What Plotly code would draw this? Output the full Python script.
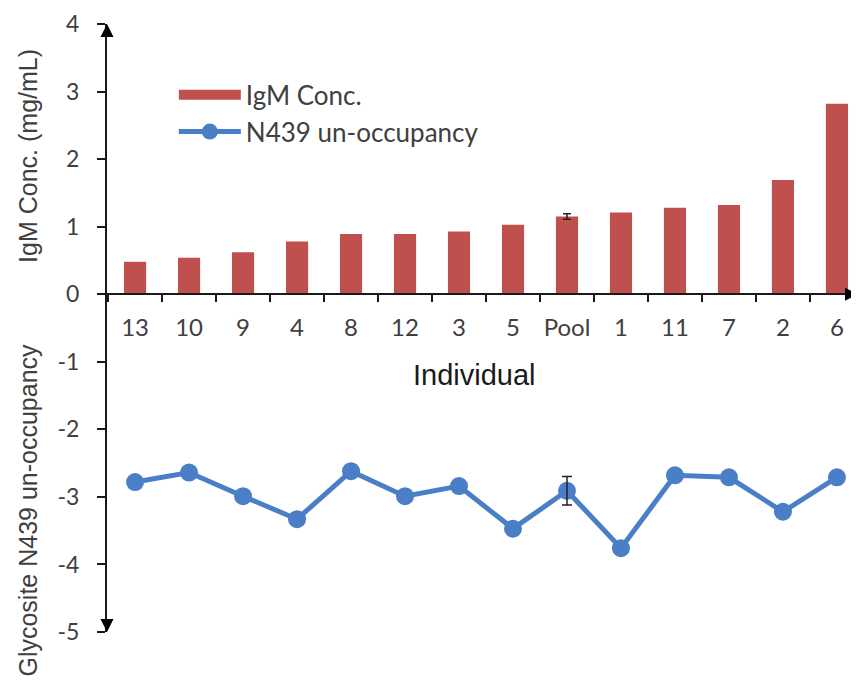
import plotly.graph_objects as go

individuals = ["13", "10", "9", "4", "8", "12", "3", "5", "Pool", "1", "11", "7", "2", "6"]
igm_conc = [0.48, 0.54, 0.62, 0.78, 0.89, 0.89, 0.93, 1.03, 1.15, 1.21, 1.28, 1.32, 1.69, 2.82]
igm_err = [None, None, None, None, None, None, None, None, 0.04, None, None, None, None, None]
n439 = [-2.78, -2.64, -2.99, -3.33, -2.62, -2.99, -2.84, -3.47, -2.91, -3.76, -2.68, -2.71, -3.22, -2.71]
n439_err = [None, None, None, None, None, None, None, None, 0.21, None, None, None, None, None]
y_ticks = [-5, -4, -3, -2, -1, 0, 1, 2, 3, 4]
y_tick_text = ["-5", "-4", "-3", "-2", "-1", "0", "1", "2", "3", "4"]

RED = "#C0504D"
BLUE = "#4A7EC6"
TXT = "#404040"
TICKFONT = dict(family="Lato, Open Sans, sans-serif", size=24, color=TXT)
YTICKFONT = dict(family="Lato, Open Sans, sans-serif", size=23, color=TXT)


def with_err(values, errs):
    idx = [i for i, e in enumerate(errs) if e is not None]
    return ([individuals[i] for i in idx], [values[i] for i in idx], [errs[i] for i in idx])


fig = go.Figure()
fig.add_trace(go.Bar(
    x=individuals, y=igm_conc, name="IgM Conc.", showlegend=False,
    marker=dict(color=RED, line=dict(width=0)),
))
ex, ey, ee = with_err(igm_conc, igm_err)
fig.add_trace(go.Scatter(
    x=ex, y=ey, mode="markers", showlegend=False, hoverinfo="skip",
    marker=dict(size=1, opacity=0),
    error_y=dict(type="data", array=ee, color="#222222", thickness=1.5, width=4),
))
# legend proxy for the bar series (wide rectangle symbol)
fig.add_trace(go.Scatter(
    x=[None], y=[None], name="IgM Conc.", mode="lines",
    line=dict(color=RED, width=14),
))
fig.add_trace(go.Scatter(
    x=individuals, y=n439, name="N439 un-occupancy", mode="lines+markers",
    line=dict(color=BLUE, width=5),
    marker=dict(color=BLUE, size=18),
))
ex, ey, ee = with_err(n439, n439_err)
fig.add_trace(go.Scatter(
    x=ex, y=ey, mode="markers", showlegend=False, hoverinfo="skip",
    marker=dict(size=1, opacity=0),
    error_y=dict(type="data", array=ee, color="#222222", thickness=1.5, width=5),
))

fig.update_layout(
    width=851, height=681,
    margin=dict(l=99, r=1, t=16, b=57),
    plot_bgcolor="white", paper_bgcolor="white",
    bargap=0.59,
    showlegend=True,
    legend=dict(x=0.089, y=0.922, xanchor="left", yanchor="top",
                font=dict(family="Lato, Open Sans, sans-serif", size=26, color=TXT),
                bgcolor="rgba(0,0,0,0)", itemwidth=62, tracegroupgap=0),
    xaxis=dict(
        type="category", range=[-0.52, 13.39], automargin=False,
        anchor="free", position=5 / 9,
        showline=True, linecolor="#1a1a1a", linewidth=2,
        ticks="outside", ticklen=7, tickwidth=1.5, tickcolor="#1a1a1a",
        tickson="boundaries", ticklabelstandoff=12, tickangle=0,
        ticklabeloverflow="allow",
        tickfont=TICKFONT, showgrid=False, zeroline=False,
    ),
    yaxis=dict(
        range=[-5, 4], tickvals=y_ticks, ticktext=y_tick_text, automargin=False,
        showline=True, linecolor="#1a1a1a", linewidth=2,
        ticks="outside", ticklen=8, tickwidth=1.5, tickcolor="#1a1a1a",
        tickfont=YTICKFONT, showgrid=False, zeroline=False,
        ticklabelstandoff=13, ticklabeloverflow="allow",
    ),
)

# Axis arrowheads
fig.add_annotation(x=1, y=0, xref="paper", yref="y", ax=-14, ay=0, text="",
                   showarrow=True, arrowhead=2, arrowsize=1.3, arrowwidth=2, arrowcolor="#000000")
fig.add_annotation(x=0, y=4, xref="paper", yref="y", ax=0, ay=14, text="",
                   showarrow=True, arrowhead=2, arrowsize=1.3, arrowwidth=2, arrowcolor="#000000")
fig.add_annotation(x=0, y=-5, xref="paper", yref="y", ax=0, ay=-14, text="",
                   showarrow=True, arrowhead=2, arrowsize=1.3, arrowwidth=2, arrowcolor="#000000")

# Axis titles
fig.add_annotation(x=0.49, y=-1.2, xref="paper", yref="y", text="Individual", showarrow=False,
                   font=dict(family="Liberation Sans, Arial, sans-serif", size=29, color="#1a1a1a"))
fig.add_annotation(x=-0.105, y=2.05, xref="paper", yref="y", text="IgM Conc. (mg/mL)", showarrow=False,
                   textangle=-90, xanchor="center",
                   font=dict(family="Liberation Sans, Arial, sans-serif", size=25, color=TXT))
fig.add_annotation(x=-0.105, y=-3.2, xref="paper", yref="y", text="Glycosite N439 un-occupancy", showarrow=False,
                   textangle=-90, xanchor="center",
                   font=dict(family="Liberation Sans, Arial, sans-serif", size=25, color=TXT))

fig.write_html("out.html")
